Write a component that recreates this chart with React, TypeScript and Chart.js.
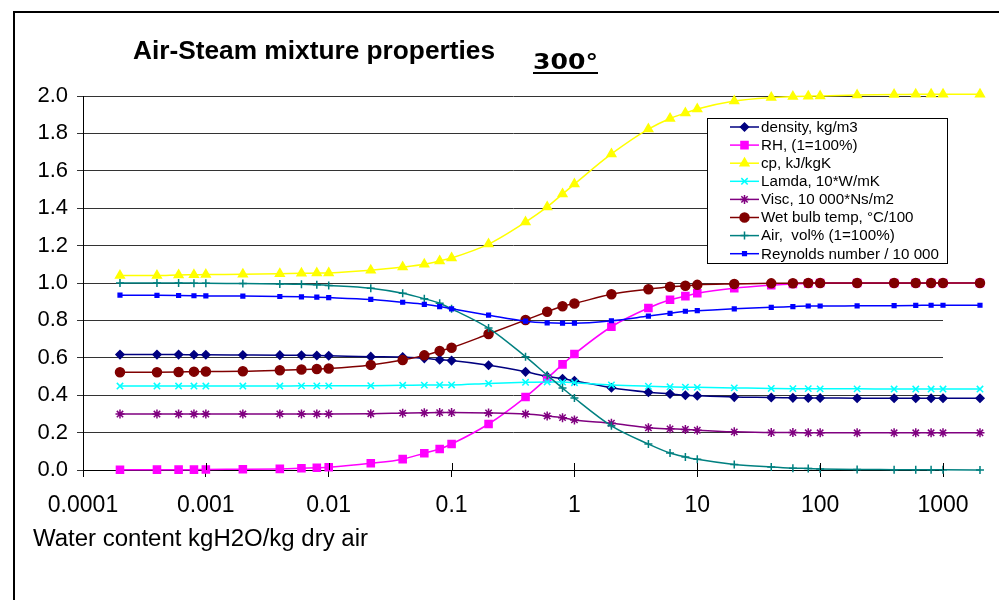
import React, { useEffect, useRef } from 'react';
import { Chart, registerables } from 'chart.js';
import { drawPoint } from 'chart.js/helpers';

Chart.register(...registerables);

const FONT = '"Liberation Sans", Arial, sans-serif';

// x values: water content kgH2O/kg dry air
const waterContent = [0.0002, 0.0004, 0.0006, 0.0008, 0.001, 0.002, 0.004, 0.006, 0.008, 0.01, 0.022, 0.04, 0.06, 0.08, 0.1, 0.2, 0.4, 0.6, 0.8, 1, 2, 4, 6, 8, 10, 20, 40, 60, 80, 100, 200, 400, 600, 800, 1000, 2000];

const density = [0.617, 0.617, 0.617, 0.616, 0.616, 0.615, 0.614, 0.613, 0.612, 0.611, 0.606, 0.604, 0.597, 0.59, 0.585, 0.56, 0.525, 0.5, 0.488, 0.477, 0.44, 0.416, 0.407, 0.4, 0.397, 0.39, 0.388, 0.386, 0.385, 0.385, 0.384, 0.384, 0.384, 0.384, 0.384, 0.384];
const rh = [0.001, 0.002, 0.002, 0.002, 0.003, 0.004, 0.006, 0.009, 0.012, 0.015, 0.036, 0.058, 0.09, 0.112, 0.139, 0.246, 0.39, 0.49, 0.565, 0.62, 0.766, 0.866, 0.91, 0.93, 0.945, 0.972, 0.988, 0.995, 0.998, 1.0, 1.0, 1.0, 1.0, 1.0, 1.0, 1.0];
const cp = [1.04, 1.04, 1.043, 1.044, 1.045, 1.047, 1.05, 1.052, 1.053, 1.054, 1.068, 1.085, 1.1, 1.118, 1.134, 1.208, 1.326, 1.407, 1.476, 1.529, 1.69, 1.823, 1.88, 1.909, 1.93, 1.973, 1.992, 1.997, 1.999, 2.0, 2.005, 2.008, 2.009, 2.01, 2.01, 2.01];
const lamda = [0.449, 0.449, 0.449, 0.449, 0.449, 0.449, 0.449, 0.45, 0.45, 0.45, 0.451, 0.453, 0.454, 0.455, 0.455, 0.463, 0.469, 0.471, 0.47, 0.467, 0.455, 0.448, 0.445, 0.443, 0.442, 0.439, 0.436, 0.435, 0.435, 0.434, 0.434, 0.433, 0.433, 0.433, 0.433, 0.433];
const visc = [0.299, 0.299, 0.299, 0.299, 0.299, 0.299, 0.3, 0.3, 0.3, 0.3, 0.301, 0.304, 0.306, 0.307, 0.307, 0.305, 0.299, 0.289, 0.28, 0.268, 0.25, 0.226, 0.22, 0.217, 0.213, 0.204, 0.2, 0.2, 0.199, 0.199, 0.199, 0.199, 0.199, 0.199, 0.199, 0.199];
const wetBulb = [0.523, 0.523, 0.524, 0.526, 0.527, 0.528, 0.533, 0.537, 0.54, 0.543, 0.562, 0.588, 0.613, 0.636, 0.654, 0.727, 0.802, 0.846, 0.876, 0.89, 0.94, 0.967, 0.98, 0.985, 0.99, 0.995, 0.998, 0.999, 1.0, 1.0, 1.0, 1.0, 1.0, 1.0, 1.0, 1.0];
const airVol = [1.0, 1.0, 1.0, 0.999, 0.998, 0.997, 0.995, 0.993, 0.99, 0.987, 0.972, 0.945, 0.916, 0.892, 0.862, 0.759, 0.606, 0.507, 0.438, 0.385, 0.236, 0.139, 0.091, 0.07, 0.057, 0.03, 0.016, 0.01, 0.008, 0.006, 0.003, 0.002, 0.001, 0.001, 0.001, 0.0005];
const reynolds = [0.935, 0.934, 0.933, 0.932, 0.931, 0.93, 0.928, 0.926, 0.924, 0.922, 0.912, 0.897, 0.886, 0.874, 0.862, 0.828, 0.796, 0.787, 0.785, 0.785, 0.798, 0.823, 0.838, 0.849, 0.852, 0.862, 0.87, 0.874, 0.877, 0.877, 0.878, 0.879, 0.88, 0.881, 0.881, 0.881];

const seriesNames = ['density, kg/m3', 'RH, (1=100%)', 'cp, kJ/kgK', 'Lamda, 10*W/mK', 'Visc, 10 000*Ns/m2', 'Wet bulb temp, °C/100', 'Air,  vol% (1=100%)', 'Reynolds number / 10 000'];
const seriesValues = [density, rh, cp, lamda, visc, wetBulb, airVol, reynolds];

const xMin = 0.0001;
const xMax = 1000;
const xTickValues = [0.0001, 0.001, 0.01, 0.1, 1, 10, 100, 1000];
const xTickLabels = ['0.0001', '0.001', '0.01', '0.1', '1', '10', '100', '1000'];

const chartTitle = 'Air-Steam mixture properties';
const chartSubtitle = '300°';
const xAxisTitle = 'Water content kgH2O/kg dry air';

const seriesColors = ['#000080', '#FF00FF', '#FFFF00', '#00FFFF', '#800080', '#800000', '#008080', '#0000FF'];
const pointStyles = ['rectRot', 'rect', 'triangle', 'crossRot', 'star', 'circle', 'cross', 'rect'];
const pointRadii = [4, 5, 5, 4.5, 4.5, 4.5, 4, 2.6];

function fitText(ctx: CanvasRenderingContext2D, text: string, x: number, y: number, width: number) {
  const w = ctx.measureText(text).width;
  ctx.save();
  ctx.translate(x, y);
  ctx.scale(width / w, 1);
  ctx.fillText(text, 0, 0);
  ctx.restore();
}

const bigArea = { left: -1e5, right: 1e5, top: -1e5, bottom: 1e5 };

const decorPlugin = {
  id: 'decor',
  beforeDraw(chart: any) {
    const ctx = chart.ctx as CanvasRenderingContext2D;
    ctx.save();
    ctx.fillStyle = '#fff';
    ctx.fillRect(0, 0, chart.width, chart.height);
    ctx.fillStyle = '#000';
    ctx.fillRect(13, 11, 2, chart.height);
    ctx.fillRect(13, 11, chart.width, 2);
    ctx.restore();
  },
  afterDatasetsDraw(chart: any) {
    // markers of points lying beyond the axis maximum (drawn unclipped, like the original)
    const ctx = chart.ctx as CanvasRenderingContext2D;
    const area = chart.chartArea;
    const metas = chart.getSortedVisibleDatasetMetas();
    for (let m = metas.length - 1; m >= 0; m--) {
      const meta = metas[m];
      meta.data.forEach((el: any) => {
        if (el.x > area.right + 1) el.draw(ctx, bigArea);
      });
    }
  },
  afterDraw(chart: any) {
    const ctx = chart.ctx as CanvasRenderingContext2D;
    const xs = chart.scales.x;
    const area = chart.chartArea;
    ctx.save();
    // inward x ticks
    ctx.strokeStyle = '#000';
    ctx.lineWidth = 1;
    xTickValues.forEach((v) => {
      const px = Math.round(xs.getPixelForValue(v)) + 0.5;
      ctx.beginPath();
      ctx.moveTo(px, area.bottom);
      ctx.lineTo(px, area.bottom - 7);
      ctx.stroke();
    });
    // titles
    ctx.fillStyle = '#000';
    ctx.textBaseline = 'alphabetic';
    ctx.font = `bold 26px ${FONT}`;
    fitText(ctx, chartTitle, 133, 59, 362);
    ctx.font = `bold 22px "DejaVu Sans", ${FONT}`;
    fitText(ctx, chartSubtitle, 533, 69, 65);
    ctx.fillRect(533, 72, 65, 2);
    ctx.font = `23px ${FONT}`;
    fitText(ctx, xAxisTitle, 33, 546, 335);

    // legend
    const lx = 707, ly = 118, lw = 240, lh = 145;
    ctx.fillStyle = '#fff';
    ctx.fillRect(lx, ly, lw, lh);
    ctx.strokeStyle = '#000';
    ctx.lineWidth = 1;
    ctx.strokeRect(lx + 0.5, ly + 0.5, lw, lh);
    ctx.font = `14px ${FONT}`;
    const longest = Math.max(...seriesNames.map((n) => ctx.measureText(n).width));
    const sx = 178 / longest;
    seriesNames.forEach((name, i) => {
      const y = 127 + i * 18.1;
      ctx.strokeStyle = seriesColors[i];
      ctx.lineWidth = 1.5;
      ctx.beginPath();
      ctx.moveTo(730, y);
      ctx.lineTo(759, y);
      ctx.stroke();
      ctx.fillStyle = seriesColors[i];
      ctx.strokeStyle = seriesColors[i];
      ctx.lineWidth = 1.5;
      drawPoint(ctx, { pointStyle: pointStyles[i], radius: pointRadii[i], rotation: 0, borderWidth: 1.5 } as any, 744.5, y);
      ctx.fillStyle = '#000';
      ctx.textBaseline = 'middle';
      ctx.save();
      ctx.translate(761, y + 1);
      ctx.scale(sx, 1);
      ctx.fillText(name, 0, 0);
      ctx.restore();
    });
    ctx.restore();
  },
};

export default function App() {
  const ref = useRef<HTMLCanvasElement | null>(null);
  useEffect(() => {
    if (!ref.current) return;
    const datasets = seriesNames.map((name, i) => ({
      label: name,
      data: waterContent.map((x, j) => ({ x, y: seriesValues[i][j] })),
      borderColor: seriesColors[i],
      backgroundColor: seriesColors[i],
      pointBackgroundColor: seriesColors[i],
      pointBorderColor: seriesColors[i],
      pointStyle: pointStyles[i],
      pointRadius: pointRadii[i],
      pointBorderWidth: 1.5,
      borderWidth: 1.5,
      cubicInterpolationMode: 'monotone' as const,
      clip: false as any,
      order: seriesNames.length - i,
    }));
    const chart = new Chart(ref.current, {
      type: 'line',
      data: { datasets },
      plugins: [decorPlugin],
      options: {
        animation: false,
        responsive: false,
        devicePixelRatio: 1,
        layout: { padding: { left: 0, top: 96, right: 56, bottom: 0 } },
        plugins: { legend: { display: false }, title: { display: false }, tooltip: { enabled: false } },
        scales: {
          x: {
            type: 'logarithmic',
            bounds: 'data',
            afterDataLimits: (s: any) => {
              s.min = xMin;
              s.max = xMax;
            },
            afterBuildTicks: (s: any) => {
              s.ticks = xTickValues.map((v) => ({ value: v }));
              s.min = xMin;
              s.max = xMax;
            },
            afterFit: (s: any) => {
              s.height = 130;
            },
            ticks: {
              autoSkip: false,
              maxRotation: 0,
              color: '#000',
              font: { family: FONT, size: 23 },
              padding: 15,
              callback: (_v: any, i: number) => xTickLabels[i],
            },
            grid: { display: true, drawOnChartArea: false, drawTicks: true, tickLength: 7, color: '#000' },
            border: { display: true, color: '#000', width: 1 },
          },
          y: {
            min: 0,
            max: 2,
            afterFit: (s: any) => {
              s.width = 83;
            },
            ticks: {
              stepSize: 0.2,
              color: '#000',
              font: { family: FONT, size: 22 },
              padding: 9,
              callback: (v: any) => Number(v).toFixed(1),
            },
            grid: { color: '#333', tickLength: 6, drawTicks: true },
            border: { display: true, color: '#000', width: 1 },
          },
        },
      } as any,
    });
    return () => chart.destroy();
  }, []);
  return (
    <div style={{ position: 'absolute', left: 0, top: 0 }}>
      <canvas ref={ref} width={999} height={600} style={{ display: 'block', width: 999, height: 600 }} />
    </div>
  );
}
